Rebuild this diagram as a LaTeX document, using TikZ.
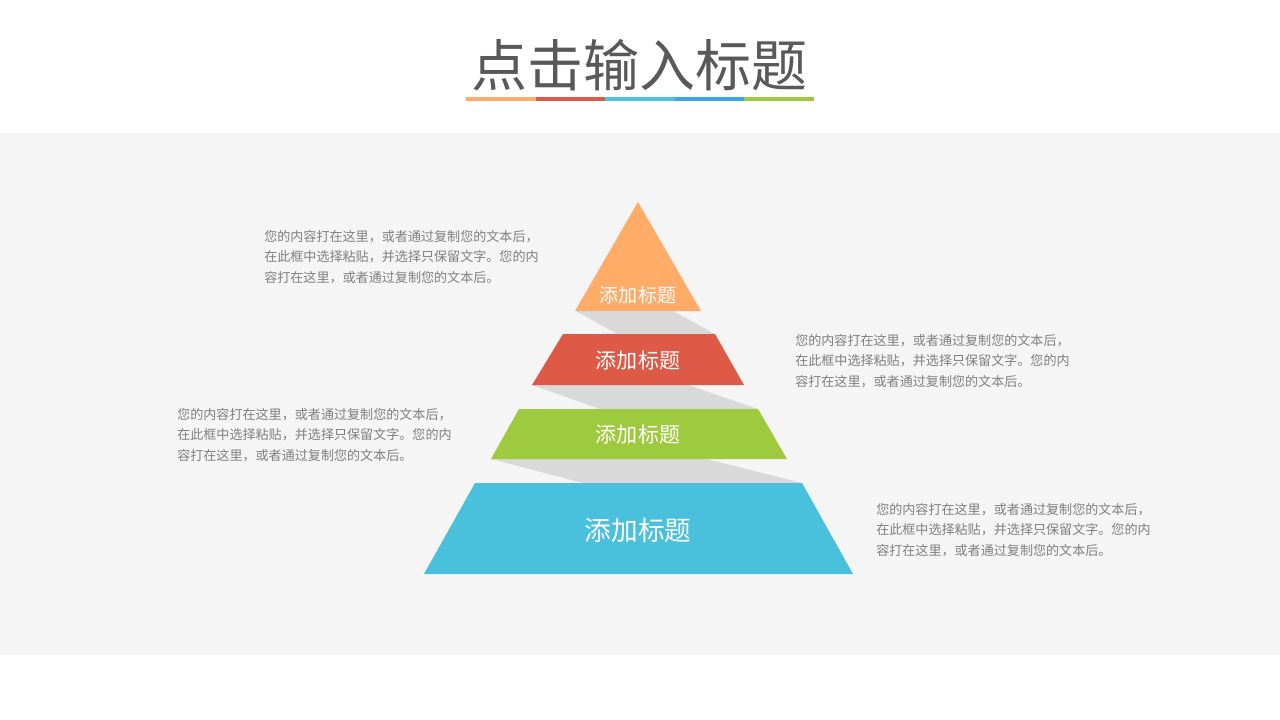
\documentclass[tikz,border=0pt]{standalone}
\usepackage{fontspec}
\setmainfont{Noto Sans CJK SC}
\usepackage{xcolor}
\definecolor{bandgray}{HTML}{F5F5F5}
\definecolor{titlegray}{HTML}{595959}
\definecolor{textgray}{HTML}{7F7F7F}
\definecolor{shadowgray}{HTML}{D9D9D9}
\definecolor{orangelvl}{HTML}{FFAC69}
\definecolor{redlvl}{HTML}{DE5A47}
\definecolor{greenlvl}{HTML}{9ECA3F}
\definecolor{bluelvl}{HTML}{49C1DD}
\definecolor{cyanbar}{HTML}{4BC3DA}
\definecolor{bluebar}{HTML}{3CA4E8}

\begin{document}
\begin{tikzpicture}[x=0.75pt,y=-0.75pt,
    level_label/.style={text=white,inner sep=0pt,anchor=center},
    desc_node/.style={text=textgray,align=left,anchor=north west,inner sep=0pt,font=\fontsize{9.8pt}{15.4pt}\selectfont}]

    \useasboundingbox (0,0) rectangle (1280,720);
    \fill[white] (0,0) rectangle (1280,720);
    \fill[bandgray] (0,133) rectangle (1280,655);

    % title
    \node[text=titlegray,inner sep=0pt,font=\fontsize{42pt}{48pt}\selectfont] (title) at (639,65) {点击输入标题};
    \fill[orangelvl] (466,97) rectangle (536,101);
    \fill[redlvl] (536,97) rectangle (605,101);
    \fill[cyanbar] (605,97) rectangle (675,101);
    \fill[bluebar] (675,97) rectangle (744,101);
    \fill[greenlvl] (744,97) rectangle (814,101);

    % shadows
    \fill[shadowgray] (576,311) -- (673,311) -- (715,334) -- (617,334) -- cycle;
    \fill[shadowgray] (532,385) -- (688,385) -- (758,409) -- (600,409) -- cycle;
    \fill[shadowgray] (491,459) -- (707,459) -- (802,483) -- (583,483) -- cycle;

    % levels
    \fill[orangelvl] (638,202) -- (701,311) -- (575,311) -- cycle;
    \fill[redlvl] (563,334) -- (715,334) -- (744,385) -- (532,385) -- cycle;
    \fill[greenlvl] (519,409) -- (758,409) -- (787,459) -- (491,459) -- cycle;
    \fill[bluelvl] (475,483) -- (802,483) -- (853,574) -- (424,574) -- cycle;

    \node[level_label,font=\fontsize{14.3pt}{16pt}\selectfont] (0) at (638,295) {添加标题};
    \node[level_label,font=\fontsize{15.8pt}{18pt}\selectfont] (1) at (638,361) {添加标题};
    \node[level_label,font=\fontsize{15.8pt}{18pt}\selectfont] (2) at (638,435) {添加标题};
    \node[level_label,font=\fontsize{20pt}{22pt}\selectfont] (3) at (638,530) {添加标题};

    % descriptions
    \node[desc_node] (d0) at (264,230) {您的内容打在这里，或者通过复制您的文本后，\\在此框中选择粘贴，并选择只保留文字。您的内\\容打在这里，或者通过复制您的文本后。};
    \node[desc_node] (d1) at (795,334) {您的内容打在这里，或者通过复制您的文本后，\\在此框中选择粘贴，并选择只保留文字。您的内\\容打在这里，或者通过复制您的文本后。};
    \node[desc_node] (d2) at (177,408) {您的内容打在这里，或者通过复制您的文本后，\\在此框中选择粘贴，并选择只保留文字。您的内\\容打在这里，或者通过复制您的文本后。};
    \node[desc_node] (d3) at (876,503) {您的内容打在这里，或者通过复制您的文本后，\\在此框中选择粘贴，并选择只保留文字。您的内\\容打在这里，或者通过复制您的文本后。};
    \end{tikzpicture}
\end{document}
